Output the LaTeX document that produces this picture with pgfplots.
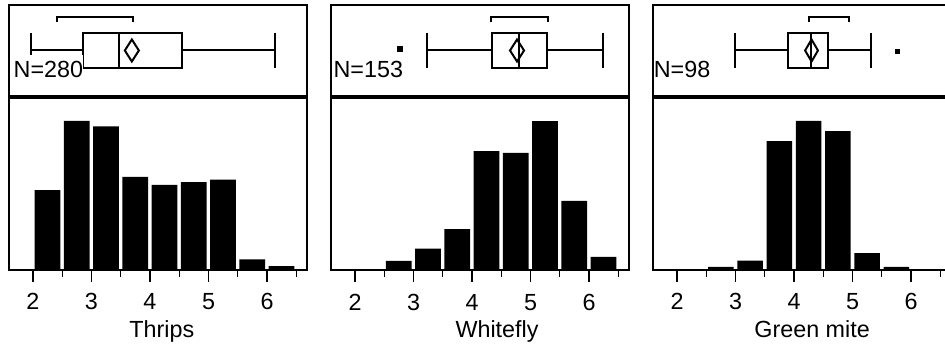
\documentclass[border=0pt]{standalone}
\usepackage{pgfplots}
\pgfplotsset{compat=1.18}
\usepgfplotslibrary{statistics}
\usepackage{fontspec}
\setmainfont{Liberation Sans}
\begin{document}
\fontsize{17.5}{20}\selectfont
\begin{tikzpicture}
\path[use as bounding box] (0pt,0pt) rectangle (708.75pt,261.75pt);
\clip (0pt,0pt) rectangle (708.75pt,261.75pt);
\pgfplotsset{
  common/.style={scale only axis, width=223.5pt, xmin=1.59, xmax=6.684,
    anchor=south west, axis line style={line width=1.3pt}, clip=false, axis on top,
    /pgf/number format/assume math mode=true},
  hist/.style={common, height=129.75pt, ymin=0, ytick=\empty,
    xtick={2,3,4,5,6}, minor xtick={2.5,3.5,4.5,5.5,6.5},
    tick align=outside, xtick pos=lower,
    major tick length=9pt, minor tick length=5pt,
    major tick style={black, line width=1.3pt},
    minor tick style={black, line width=1.1pt},
    xticklabel style={anchor=base, yshift=-21pt}},
  bx/.style={common, height=69pt, ymin=0, ymax=92, xtick=\empty, ytick=\empty,
    boxplot/every box/.style={line width=1.5pt},
    boxplot/every whisker/.style={line width=1.5pt},
    boxplot/every median/.style={line width=1.5pt}},
  bars/.style={ybar, bar width=0.44, fill=black, draw=none},
  ln/.style={black, line width=1.5pt},
}
% ---------------- Panel 1: Thrips ----------------
\begin{axis}[bx, at={(6.75pt,189pt)}]
\addplot[ln, boxplot prepared={lower whisker=1.97, lower quartile=2.855, median=3.47,
  upper quartile=4.55, upper whisker=6.14, draw position=46.5, box extend=35, whisker extend=35}] coordinates {};
\addplot[ln] coordinates {(3.57,46.5) (3.69,57.5) (3.81,46.5) (3.69,35.5) (3.57,46.5) (3.69,57.5)};
\addplot[ln] coordinates {(2.41,75) (2.41,80) (3.71,80) (3.71,75)};
\node[anchor=base west, fill=white, inner sep=0pt, text height=17.25pt, text depth=3pt] at (axis cs:1.665,19) {N=280};
\end{axis}
\begin{axis}[hist, at={(6.75pt,59.25pt)}, ymax=65.0,
  xlabel={Thrips}, xlabel style={at={(axis description cs:0.513,0)}, anchor=base, yshift=-51pt}]
\addplot[bars] coordinates {(2.25,30) (2.75,56) (3.25,54) (3.75,35) (4.25,32) (4.75,33) (5.25,34) (5.75,4) (6.25,1.5)};
\draw[line width=2.5pt] (rel axis cs:0,1) -- (rel axis cs:1,1);
\end{axis}
% ---------------- Panel 2: Whitefly ----------------
\begin{axis}[bx, at={(248.25pt,189pt)}]
\addplot[ln, boxplot prepared={lower whisker=3.23, lower quartile=4.34, median=4.80,
  upper quartile=5.28, upper whisker=6.24, draw position=46.5, box extend=35, whisker extend=35}] coordinates {};
\addplot[ln] coordinates {(4.65,46.5) (4.77,57.5) (4.89,46.5) (4.77,35.5) (4.65,46.5) (4.77,57.5)};
\addplot[ln] coordinates {(4.32,75) (4.32,80) (5.30,80) (5.30,75)};
\addplot[only marks, mark=square*, mark size=2pt, black] coordinates {(2.77,48)};
\node[anchor=base west, fill=white, inner sep=0pt, text height=17.25pt, text depth=3pt] at (axis cs:1.63,19) {N=153};
\end{axis}
\begin{axis}[hist, at={(248.25pt,59.25pt)}, ymax=48.77,
  xlabel={Whitefly}, xlabel style={at={(axis description cs:0.557,0)}, anchor=base, yshift=-51pt}]
\addplot[bars] coordinates {(2.75,2.6) (3.25,6) (3.75,11.5) (4.25,33.5) (4.75,33) (5.25,42) (5.75,19.5) (6.25,3.7)};
\draw[line width=2.5pt] (rel axis cs:0,1) -- (rel axis cs:1,1);
\end{axis}
% ---------------- Panel 3: Green mite ----------------
\begin{axis}[bx, at={(489.75pt,189pt)}]
\addplot[ln, boxplot prepared={lower whisker=2.99, lower quartile=3.90, median=4.29,
  upper quartile=4.58, upper whisker=5.32, draw position=46.5, box extend=35, whisker extend=35}] coordinates {};
\addplot[ln] coordinates {(4.19,46.5) (4.30,57.5) (4.41,46.5) (4.30,35.5) (4.19,46.5) (4.30,57.5)};
\addplot[ln] coordinates {(4.26,75) (4.26,80) (4.94,80) (4.94,75)};
\addplot[only marks, mark=square*, mark size=1.4pt, black] coordinates {(5.76,46)};
\node[anchor=base west, fill=white, inner sep=0pt, text height=17.25pt, text depth=3pt] at (axis cs:1.60,19) {N=98};
\end{axis}
\begin{axis}[hist, at={(489.75pt,59.25pt)}, ymax=37.15,
  xlabel={Green mite}, xlabel style={at={(axis description cs:0.534,0)}, anchor=base, yshift=-51pt}]
\addplot[bars] coordinates {(2.75,0.65) (3.25,2) (3.75,27.7) (4.25,32) (4.75,29.8) (5.25,3.6) (5.75,0.65)};
\draw[line width=2.5pt] (rel axis cs:0,1) -- (rel axis cs:1,1);
\end{axis}
\end{tikzpicture}
\end{document}
